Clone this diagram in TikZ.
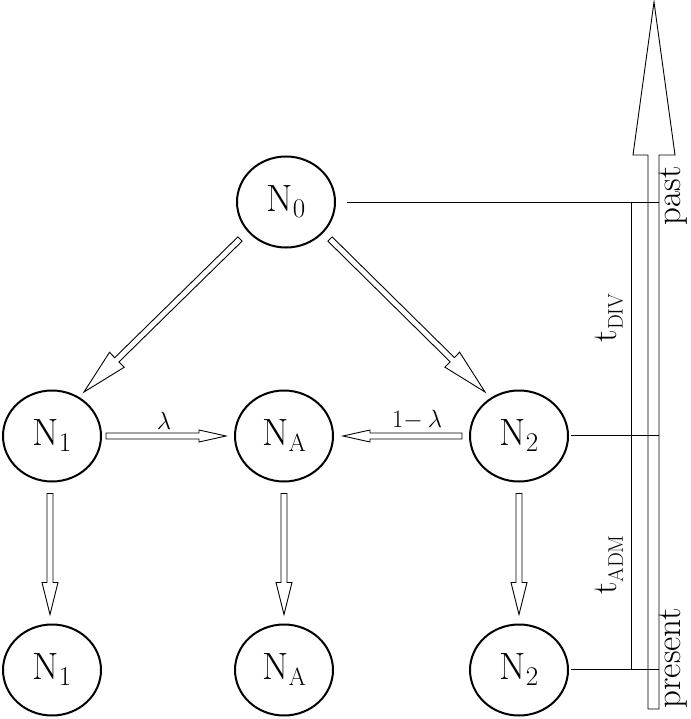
\documentclass[tikz,border=0pt]{standalone}
\usetikzlibrary{shapes.geometric,calc}
\newcommand\subtxt[2]{\raisebox{-6pt}{\fontsize{#1}{#1}\selectfont #2}}
\newcommand\fatarrow[4]{%
  \path ($(#2)!#3!(#1)$) coordinate (hb);
  \draw[arrsty] ($(#1)!3pt!90:(#2)$) -- ($(hb)!3pt!90:(#2)$) -- ($(hb)!#4!90:(#2)$) -- (#2)
     -- ($(hb)!#4!-90:(#2)$) -- ($(hb)!3pt!-90:(#2)$) -- ($(#1)!3pt!-90:(#2)$) -- cycle;
}
\begin{document}
\begin{tikzpicture}[x=1pt,y=-1pt,
  pop/.style={ellipse, draw, line width=2pt, minimum width=98pt, minimum height=91pt,
    inner sep=0pt, font=\fontsize{38}{42}\selectfont},
  arrsty/.style={draw, line width=0.9pt, line join=miter, fill=white},
  tline/.style={draw, line width=0.8pt},
  lab/.style={font=\fontsize{35}{40}\selectfont, inner sep=0pt},
  smalllab/.style={font=\fontsize{30}{34}\selectfont, inner sep=0pt}
]
\useasboundingbox (0,0) rectangle (690,719);

% populations
\node[pop] (N0) at (286,202) {N\subtxt{27}{0}};
\node[pop] (N1) at (52,436) {N\subtxt{27}{1}};
\node[pop] (NA) at (284,436) {N\subtxt{25}{A}};
\node[pop] (N2) at (519,436) {N\subtxt{27}{2}};
\node[pop] (N1b) at (52,670) {N\subtxt{27}{1}};
\node[pop] (NAb) at (284,670) {N\subtxt{25}{A}};
\node[pop] (N2b) at (519,670) {N\subtxt{27}{2}};

% arrow end points
\coordinate (a1s) at ([shift={(-46,37)}]N0.center);
\coordinate (a1t) at ([shift={(32,-44)}]N1.center);
\coordinate (a2s) at ([shift={(44,37)}]N0.center);
\coordinate (a2t) at ([shift={(-34,-44)}]N2.center);
\coordinate (a3s) at ([shift={(4,0)}]N1.east);
\coordinate (a3t) at ([shift={(-8,0)}]NA.west);
\coordinate (a4s) at ([shift={(-7,0)}]N2.west);
\coordinate (a4t) at ([shift={(9,0)}]NA.east);
\coordinate (a5s) at ([shift={(-2,11)}]N1.south);
\coordinate (a5t) at ([shift={(-2,-9)}]N1b.north);
\coordinate (a6s) at ([shift={(0,11)}]NA.south);
\coordinate (a6t) at ([shift={(0,-9)}]NAb.north);
\coordinate (a7s) at ([shift={(0,11)}]N2.south);
\coordinate (a7t) at ([shift={(0,-9)}]N2b.north);

\fatarrow{a1s}{a1t}{46pt}{10.5pt}
\fatarrow{a2s}{a2t}{46pt}{10.5pt}
\fatarrow{a3s}{a3t}{27pt}{6pt}
\fatarrow{a4s}{a4t}{27pt}{6pt}
\fatarrow{a5s}{a5t}{32pt}{8pt}
\fatarrow{a6s}{a6t}{32pt}{8pt}
\fatarrow{a7s}{a7t}{32pt}{8pt}

\node[smalllab] (lam) at (164,421) {$\lambda$};
\node[smalllab] (omlam) at (417,420) {$1$$-$\,$\lambda$};

% time axis
\draw[arrsty, fill=none] (648,709) -- (648,155) -- (633,155) -- (654,2) -- (675,155)
   -- (659,155) -- (659,709) -- cycle;
\coordinate (p0) at (659,202);
\coordinate (p1) at (659,435);
\coordinate (p2) at (659,669);
\coordinate (v0) at (631,202);
\coordinate (v2) at (631,669);
\draw[tline] ([shift={(11,0)}]N0.east) -- (p0);
\draw[tline] ([shift={(2,-1)}]N2.east) -- (p1);
\draw[tline] ([shift={(2,-1)}]N2b.east) -- (p2);
\draw[tline] (v0) -- (v2);

\node[lab, rotate=90, anchor=south] (past) at (688,196) {past};
\node[lab, rotate=90, anchor=south] (present) at (688,658) {present};
\node[lab, rotate=90] (tdiv) at (609,318) {t\subtxt{21}{DIV}};
\node[lab, rotate=90] (tadm) at (609,565) {t\subtxt{21}{ADM}};
\end{tikzpicture}
\end{document}
